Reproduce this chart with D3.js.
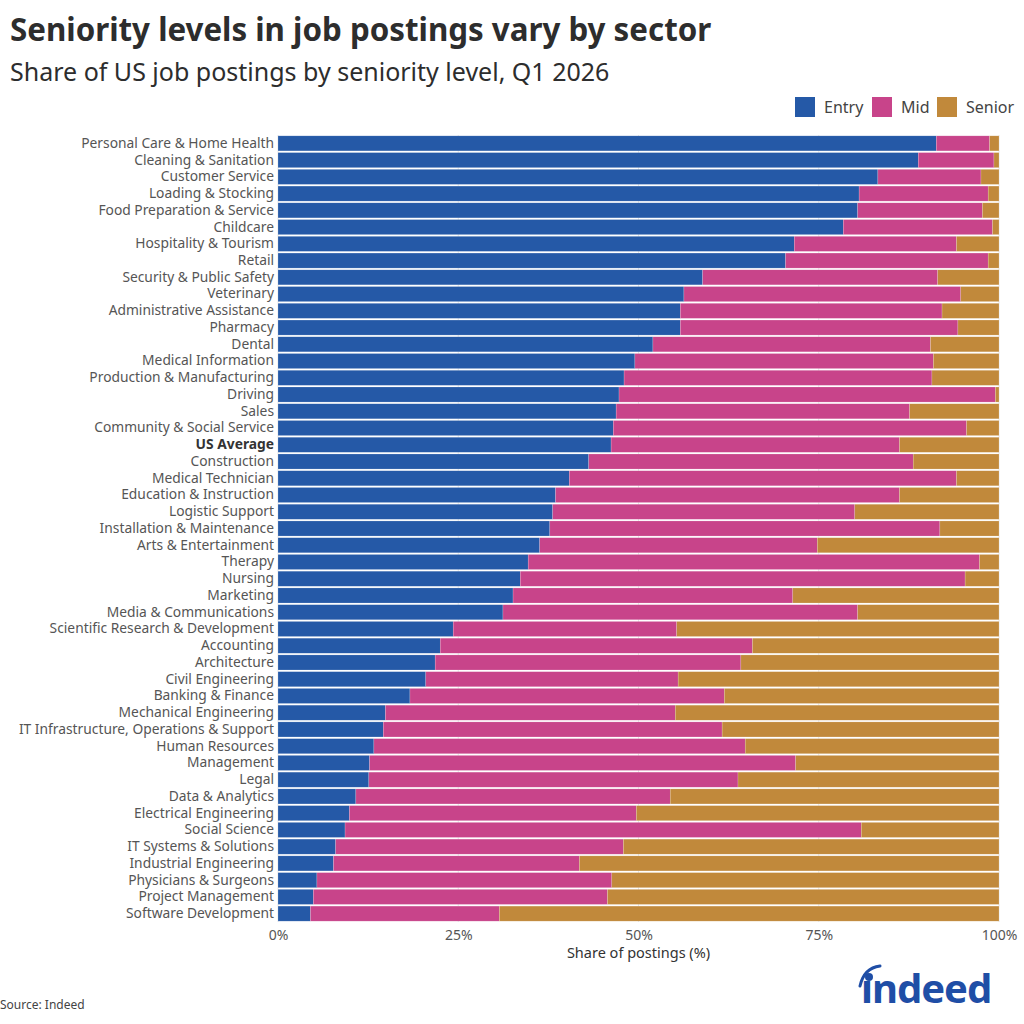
<!DOCTYPE html>
<html>
<head>
<meta charset="utf-8">
<script src="https://cdn.jsdelivr.net/npm/d3@7"></script>
<style>
  body { margin: 0; background: #fff; }
  svg { font-family: "Noto Sans", "Open Sans", sans-serif; }
</style>
</head>
<body>
<svg id="chart"></svg>
<script>
const W = 1024, H = 1024
const MARGIN = { left: 278, right: 25, top: 135, bottom: 102 }

const SECTORS = ["Personal Care & Home Health", "Cleaning & Sanitation", "Customer Service", "Loading & Stocking",
  "Food Preparation & Service", "Childcare", "Hospitality & Tourism", "Retail", "Security & Public Safety",
  "Veterinary", "Administrative Assistance", "Pharmacy", "Dental", "Medical Information",
  "Production & Manufacturing", "Driving", "Sales", "Community & Social Service", "US Average",
  "Construction", "Medical Technician", "Education & Instruction", "Logistic Support",
  "Installation & Maintenance", "Arts & Entertainment", "Therapy", "Nursing", "Marketing",
  "Media & Communications", "Scientific Research & Development", "Accounting", "Architecture",
  "Civil Engineering", "Banking & Finance", "Mechanical Engineering", "IT Infrastructure, Operations & Support",
  "Human Resources", "Management", "Legal", "Data & Analytics", "Electrical Engineering", "Social Science",
  "IT Systems & Solutions", "Industrial Engineering", "Physicians & Surgeons", "Project Management",
  "Software Development"]

// share of entry level postings (%)
const ENTRY = [91.3, 88.8, 83.2, 80.6, 80.4, 78.4, 71.6, 70.4, 58.9, 56.3, 55.8, 55.8, 52.0, 49.5,
  48.0, 47.3, 46.9, 46.5, 46.2, 43.1, 40.4, 38.5, 38.1, 37.7, 36.3, 34.7, 33.6, 32.6, 31.2, 24.3,
  22.5, 21.8, 20.5, 18.3, 14.9, 14.6, 13.3, 12.7, 12.6, 10.8, 9.9, 9.3, 8.0, 7.7, 5.4, 4.9, 4.5]
// share of mid level postings (%)
const MID = [7.4, 10.5, 14.3, 17.9, 17.3, 20.7, 22.5, 28.1, 32.6, 38.4, 36.3, 38.5, 38.5, 41.4,
  42.7, 52.2, 40.7, 49.0, 40.0, 45.0, 53.7, 47.7, 41.9, 54.1, 38.5, 62.6, 61.7, 38.8, 49.2, 31.0,
  43.3, 42.4, 35.0, 43.6, 40.2, 47.0, 51.5, 59.1, 51.2, 43.6, 39.8, 71.6, 39.9, 34.1, 40.9, 40.8, 26.2]
// senior = remainder
const SENIOR = ENTRY.map((e, i) => +(100 - e - MID[i]).toFixed(1))

const LEVELS = ["Entry", "Mid", "Senior"]
const COLORS = ["#2559a7", "#c8448a", "#c1893b"]
const X_TICKS = [0, 25, 50, 75, 100]

const rows = SECTORS.map((s, i) => ({ sector: s, Entry: ENTRY[i], Mid: MID[i], Senior: SENIOR[i] }))

const svg = d3.select('#chart').attr('width', W).attr('height', H)

svg.append('text').attr('x', 10).attr('y', 41)
  .attr('font-size', 31.3).attr('font-weight', 700).attr('fill', '#2d2d2d')
  .text('Seniority levels in job postings vary by sector')
svg.append('text').attr('x', 10).attr('y', 81)
  .attr('font-size', 25).attr('fill', '#2d2d2d')
  .text('Share of US job postings by seniority level, Q1 2026')

const x = d3.scaleLinear().domain([0, 100]).range([MARGIN.left, W - MARGIN.right])
const y = d3.scaleBand().domain(SECTORS).range([MARGIN.top, H - MARGIN.bottom]).paddingInner(0.1).paddingOuter(0.05)
const color = d3.scaleOrdinal().domain(LEVELS).range(COLORS)

// grid
svg.append('g').selectAll('line').data(X_TICKS).join('line')
  .attr('x1', d => x(d)).attr('x2', d => x(d))
  .attr('y1', MARGIN.top).attr('y2', H - MARGIN.bottom)
  .attr('stroke', '#e6e6e6').attr('stroke-width', 1)

const stacked = d3.stack().keys(LEVELS)(rows)

svg.append('g').selectAll('g').data(stacked).join('g')
  .attr('fill', d => color(d.key))
  .selectAll('rect').data(d => d).join('rect')
  .attr('x', d => x(d[0]))
  .attr('width', d => Math.max(0, x(d[1]) - x(d[0])))
  .attr('y', d => y(d.data.sector))
  .attr('height', y.bandwidth())
  .attr('stroke', 'rgba(255,255,255,0.35)').attr('stroke-width', 0.5)

// y axis labels
svg.append('g').attr('transform', `translate(${MARGIN.left - 4},0)`)
  .call(d3.axisLeft(y).tickSize(0).tickPadding(0))
  .call(g => g.select('.domain').remove())
  .call(g => g.selectAll('text')
    .attr('font-size', 13.8).attr('font-family', '"Noto Sans", sans-serif')
    .attr('font-weight', d => d === 'US Average' ? 700 : 400)
    .attr('fill', d => d === 'US Average' ? '#333' : '#555'))

// x axis
svg.append('g').attr('transform', `translate(0,${H - MARGIN.bottom})`)
  .call(d3.axisBottom(x).tickValues(X_TICKS).tickFormat(d => d + '%').tickSize(0).tickPadding(8))
  .call(g => g.select('.domain').remove())
  .call(g => g.selectAll('text').attr('font-size', 14).attr('fill', '#555')
    .attr('font-family', '"Noto Sans", sans-serif'))

svg.append('text').attr('x', (x(0) + x(100)) / 2).attr('y', 958)
  .attr('text-anchor', 'middle').attr('font-size', 14.5).attr('fill', '#333')
  .text('Share of postings (%)')

// legend
const legendX = [795, 872, 937]
const legend = svg.append('g').selectAll('g').data(LEVELS).join('g')
  .attr('transform', (d, i) => `translate(${legendX[i]},97)`)
legend.append('rect').attr('width', 20).attr('height', 20).attr('fill', d => color(d))
legend.append('text').attr('x', 29).attr('y', 16).attr('font-size', 16).attr('fill', '#444').text(d => d)

svg.append('text').attr('x', 0).attr('y', 1009).attr('font-size', 12).attr('fill', '#444')
  .text('Source: Indeed')

// indeed logo
const logo = svg.append('g').attr('fill', '#1f4ea6')
logo.append('text').attr('x', 861).attr('y', 1003)
  .attr('font-size', 40).attr('font-weight', 700).attr('letter-spacing', -1)
  .text('ındeed')
logo.append('circle').attr('cx', 869).attr('cy', 977).attr('r', 4)
logo.append('path').attr('d', 'M860,986 Q864,968 880,966').attr('fill', 'none')
  .attr('stroke', '#1f4ea6').attr('stroke-width', 3).attr('stroke-linecap', 'round')
</script>
</body>
</html>
